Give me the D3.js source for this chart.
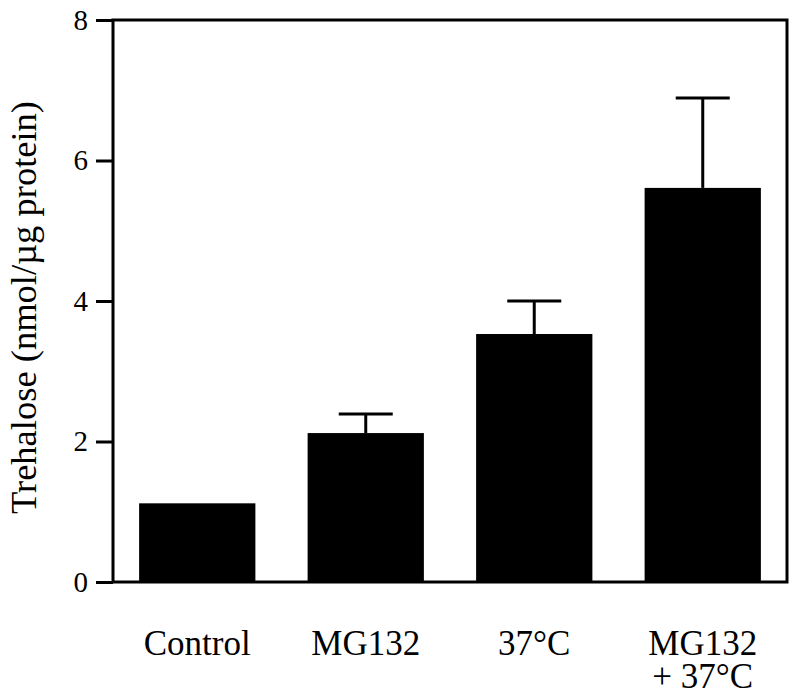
<!DOCTYPE html>
<html>
<head>
<meta charset="utf-8">
<script src="https://cdn.jsdelivr.net/npm/d3@7"></script>
<style>
  html, body { margin: 0; padding: 0; background: #fff; }
  svg { display: block; }
  text { font-family: "Liberation Serif", "Times New Roman", serif; fill: #000; }
</style>
</head>
<body>
<svg id="chart" width="800" height="696"></svg>
<script>
// ---- data ----
const categories = ["Control", "MG132", "37°C", "MG132\n+ 37°C"];
const values = [1.12, 2.12, 3.53, 5.61];
const errors = [0, 0.27, 0.47, 1.28];
const yTicks = [0, 2, 4, 6, 8];
const yLabel = "Trehalose (nmol/µg protein)";

// ---- layout ----
const svg = d3.select("#chart");
const plotLeft = 113, plotRight = 787, plotTop = 20, plotBottom = 582;

const x = d3.scaleBand()
  .domain(categories)
  .range([plotLeft, plotRight])
  .paddingInner(0.31)
  .paddingOuter(0.155);

const y = d3.scaleLinear().domain([0, 8]).range([plotBottom, plotTop]);

// bars
svg.append("g").selectAll("rect")
  .data(categories)
  .join("rect")
  .attr("x", d => x(d))
  .attr("width", x.bandwidth())
  .attr("y", (d, i) => y(values[i]))
  .attr("height", (d, i) => y(0) - y(values[i]))
  .attr("fill", "#000");

// error bars (upper only)
const capW = 54;
const eg = svg.append("g").attr("stroke", "#000").attr("stroke-width", 3);
categories.forEach((c, i) => {
  if (errors[i] <= 0) return;
  const cx = x(c) + x.bandwidth() / 2;
  eg.append("line")
    .attr("x1", cx).attr("x2", cx)
    .attr("y1", y(values[i])).attr("y2", y(values[i] + errors[i]));
  eg.append("line")
    .attr("x1", cx - capW / 2).attr("x2", cx + capW / 2)
    .attr("y1", y(values[i] + errors[i])).attr("y2", y(values[i] + errors[i]));
});

// frame
svg.append("rect")
  .attr("x", plotLeft).attr("y", plotTop)
  .attr("width", plotRight - plotLeft).attr("height", plotBottom - plotTop)
  .attr("fill", "none").attr("stroke", "#000").attr("stroke-width", 3);

// y axis
const yAxis = d3.axisLeft(y).tickValues(yTicks).tickSize(17).tickPadding(8)
  .tickFormat(d3.format("d"));
const ga = svg.append("g").attr("transform", `translate(${plotLeft},0)`).call(yAxis);
ga.select(".domain").remove();
ga.selectAll(".tick line").attr("stroke", "#000").attr("stroke-width", 3);
ga.selectAll(".tick text")
  .style("font-family", "'Liberation Serif', 'Times New Roman', serif")
  .style("font-size", "29px")
  .attr("fill", "#000");

// x category labels
const lg = svg.append("g");
categories.forEach(c => {
  const cx = x(c) + x.bandwidth() / 2;
  const t = lg.append("text")
    .attr("text-anchor", "middle")
    .style("font-size", "35px");
  c.split("\n").forEach((line, j) => {
    t.append("tspan").attr("x", cx).attr("y", 655 + j * 33).text(line);
  });
});

// y label
svg.append("text")
  .attr("transform", `translate(36, ${(100 + 515) / 2}) rotate(-90)`)
  .attr("text-anchor", "middle")
  .style("font-size", "36.5px")
  .text(yLabel);
</script>
</body>
</html>
